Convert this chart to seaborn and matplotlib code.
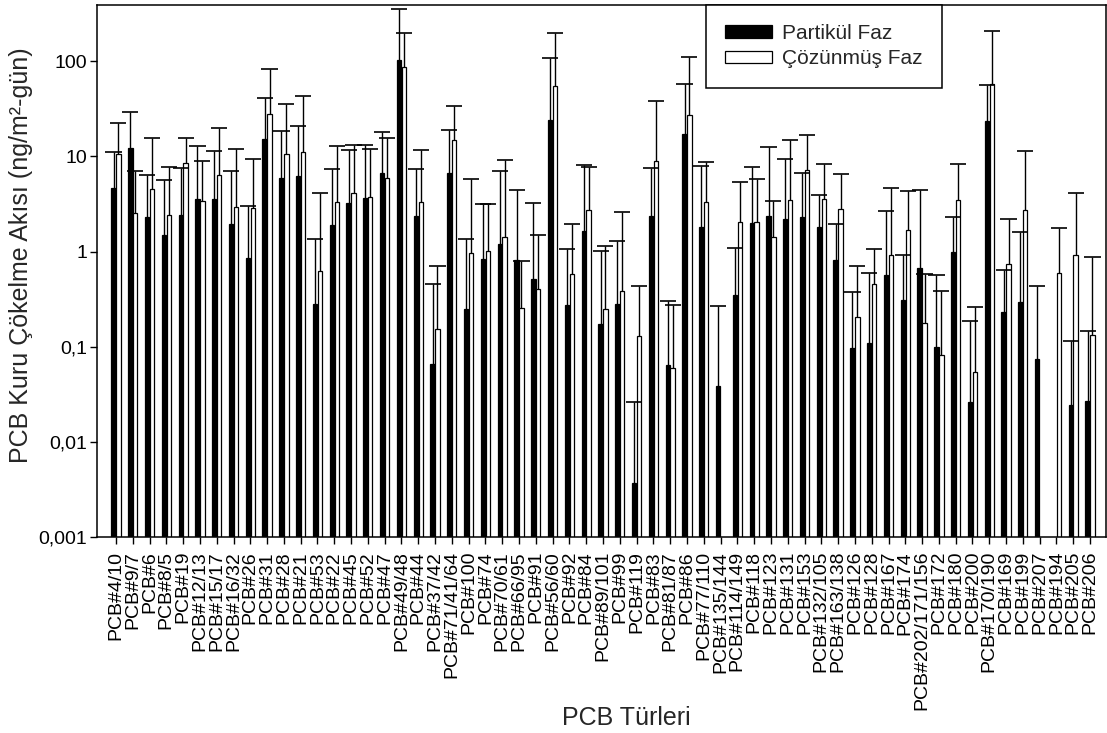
import numpy as np
import pandas as pd
import matplotlib
matplotlib.use("Agg")
import matplotlib.pyplot as plt
import seaborn as sns
from matplotlib.patches import Patch
from matplotlib.ticker import FixedLocator, FixedFormatter, NullLocator


# ---------------------------------------------------------
# Data
# ---------------------------------------------------------

categories = [
    "PCB#4/10", "PCB#9/7", "PCB#6", "PCB#8/5", "PCB#19", "PCB#12/13",
    "PCB#15/17", "PCB#16/32", "PCB#26", "PCB#31", "PCB#28", "PCB#21",
    "PCB#53", "PCB#22", "PCB#45", "PCB#52", "PCB#47", "PCB#49/48",
    "PCB#44", "PCB#37/42", "PCB#71/41/64", "PCB#100", "PCB#74",
    "PCB#70/61", "PCB#66/95", "PCB#91", "PCB#56/60", "PCB#92", "PCB#84",
    "PCB#89/101", "PCB#99", "PCB#119", "PCB#83", "PCB#81/87", "PCB#86",
    "PCB#77/110", "PCB#135/144", "PCB#114/149", "PCB#118", "PCB#123",
    "PCB#131", "PCB#153", "PCB#132/105", "PCB#163/138", "PCB#126",
    "PCB#128", "PCB#167", "PCB#174", "PCB#202/171/156", "PCB#172",
    "PCB#180", "PCB#200", "PCB#170/190", "PCB#169", "PCB#199", "PCB#207",
    "PCB#194", "PCB#205", "PCB#206",
]

# Partikül faz: ortalama ve hata çubuğu üst ucu
partikul = [
    4.68, 12.3, 2.33, 1.48, 2.41, 3.55, 3.55, 1.95, 0.86, 15.1, 5.86, 6.2,
    0.28, 1.89, 3.26, 3.63, 6.65, 102, 2.35, 0.065, 6.7, 0.248, 0.84,
    1.2, 0.81, 0.52, 24, 0.277, 1.64, 0.174, 0.284, 0.0037, 2.35, 0.064,
    17.3, 1.83, 0.0385, 0.347, 1.99, 2.39, 2.2, 2.31, 1.83, 0.82, 0.097,
    0.109, 0.564, 0.306, 0.667, 0.099, 1.0, 0.0264, 23.6, 0.232, 0.296,
    0.075, np.nan, 0.0243, 0.0268,
]
partikul_ust = [
    11.1, 29.1, 6.4, 5.6, 7.55, 13.0, 11.5, 7.0, 3.02, 40.7, 18.4, 20.7,
    1.36, 7.3, 11.6, 13.1, 17.9, 355, 7.3, 0.457, 19.0, 1.35, 3.15,
    7.0, 4.45, 3.23, 107, 1.06, 8.07, 1.02, 1.28, 0.026, 7.6, 0.30,
    58, 7.9, 0.27, 1.10, 7.8, 12.4, 9.4, 6.7, 3.95, 1.95, 0.38,
    0.59, 2.67, 0.93, 4.4, 0.564, 2.31, 0.185, 56, 0.64, 1.61,
    0.43, np.nan, 0.115, 0.147,
]

# Çözünmüş faz: ortalama ve hata çubuğu üst ucu
cozunmus = [
    10.6, 2.55, 4.56, 2.43, 8.5, 3.37, 6.4, 2.97, 2.85, 28.2, 10.5, 11.1,
    0.63, 3.31, 4.12, 3.72, 5.9, 88, 3.29, 0.154, 14.9, 0.97, 1.01,
    1.43, 0.254, 0.40, 54.7, 0.574, 2.71, 0.248, 0.384, 0.128, 9.0, 0.060,
    27.2, 3.29, np.nan, 2.02, 2.02, 1.42, 3.52, 7.2, 3.55, 2.83, 0.206,
    0.457, 0.92, 1.68, 0.179, 0.082, 3.52, 0.054, 58, 0.74, 2.73,
    np.nan, 0.59, 0.93, 0.132,
]
cozunmus_ust = [
    22.6, 7.1, 15.7, 7.8, 15.7, 8.9, 20.1, 12.1, 9.5, 82, 35.3, 42.8,
    4.12, 12.9, 13.1, 11.9, 15.5, 197, 11.6, 0.70, 33.6, 5.77, 3.15,
    9.08, 0.79, 1.48, 196, 1.97, 7.7, 1.13, 2.58, 0.43, 38.1, 0.277,
    111, 8.8, np.nan, 5.44, 5.8, 3.37, 14.9, 16.9, 8.4, 6.6, 0.71,
    1.06, 4.68, 4.34, 0.574, 0.387, 8.4, 0.261, 209, 2.2, 11.4,
    np.nan, 1.75, 4.12, 0.88,
]

series = ["Partikül Faz", "Çözünmüş Faz"]
colors = {"Partikül Faz": "black", "Çözünmüş Faz": "white"}

y_ticks = [0.001, 0.01, 0.1, 1, 10, 100]
y_tick_labels = ["0,001", "0,01", "0,1", "1", "10", "100"]


# ---------------------------------------------------------
# Plot Style
# ---------------------------------------------------------

sns.set_style("ticks")
plt.rcParams["font.family"] = ["Liberation Sans", "DejaVu Sans"]


# ---------------------------------------------------------
# Figure
# ---------------------------------------------------------

n = len(categories)

df = pd.DataFrame({
    "tur": categories * 2,
    "faz": [series[0]] * n + [series[1]] * n,
    "aki": partikul + cozunmus,
})

fig = plt.figure(figsize=(11.07, 7.33), dpi=100)
ax = fig.add_axes([0.0876, 0.2674, 0.9115, 0.7258])

sns.barplot(
    data=df,
    x="tur",
    y="aki",
    hue="faz",
    order=categories,
    hue_order=series,
    palette=colors,
    saturation=1,
    edgecolor="black",
    linewidth=0.9,
    width=0.58,
    gap=0.1,
    errorbar=None,
    legend=False,
    ax=ax,
)

ax.set_yscale("log")

# upper error bars only
x = np.arange(n)
for offset, vals, ups in [
    (-0.145, partikul, partikul_ust),
    (0.145, cozunmus, cozunmus_ust),
]:
    v = np.asarray(vals, dtype=float)
    u = np.asarray(ups, dtype=float)
    ok = ~np.isnan(v)
    xs = x[ok] + offset
    ax.vlines(xs, v[ok], u[ok], color="black", linewidth=1.0, zorder=3)
    ax.hlines(u[ok], xs - 0.48, xs + 0.48, color="black",
              linewidth=1.2, zorder=3)

ax.set_ylim(0.001, 390)
ax.set_xlim(-1.13, 58.95)

ax.yaxis.set_major_locator(FixedLocator(y_ticks))
ax.yaxis.set_major_formatter(FixedFormatter(y_tick_labels))
ax.yaxis.set_minor_locator(NullLocator())

ax.set_xticks(x)
ax.set_xticklabels(categories, rotation=90)

ax.tick_params(axis="x", direction="out", length=5, width=1,
               labelsize=14, pad=5, colors="black")
ax.tick_params(axis="y", direction="out", length=5, width=1,
               labelsize=14, pad=2, colors="black")

for spine in ax.spines.values():
    spine.set_visible(True)
    spine.set_color("black")
    spine.set_linewidth(1.1)

ax.set_xlabel("PCB Türleri", fontsize=18)
ax.xaxis.set_label_coords(0.525, -0.318)

ax.set_ylabel("PCB Kuru Çökelme Akısı (ng/m²-gün)", fontsize=18)
ax.yaxis.set_label_coords(-0.063, 0.53)

handles = [
    Patch(facecolor=colors[s], edgecolor="black", linewidth=0.9)
    for s in series
]
leg = ax.legend(
    handles,
    series,
    loc="upper left",
    bbox_to_anchor=(0.6036, 1.0),
    borderaxespad=0,
    frameon=True,
    fancybox=False,
    edgecolor="black",
    framealpha=1,
    fontsize=15,
    handlelength=2.25,
    handleheight=0.57,
    handletextpad=0.5,
    labelspacing=0.3,
    borderpad=0.92,
)
leg.get_frame().set_linewidth(1.1)

fig.savefig("out.png", dpi=100)
plt.close(fig)
